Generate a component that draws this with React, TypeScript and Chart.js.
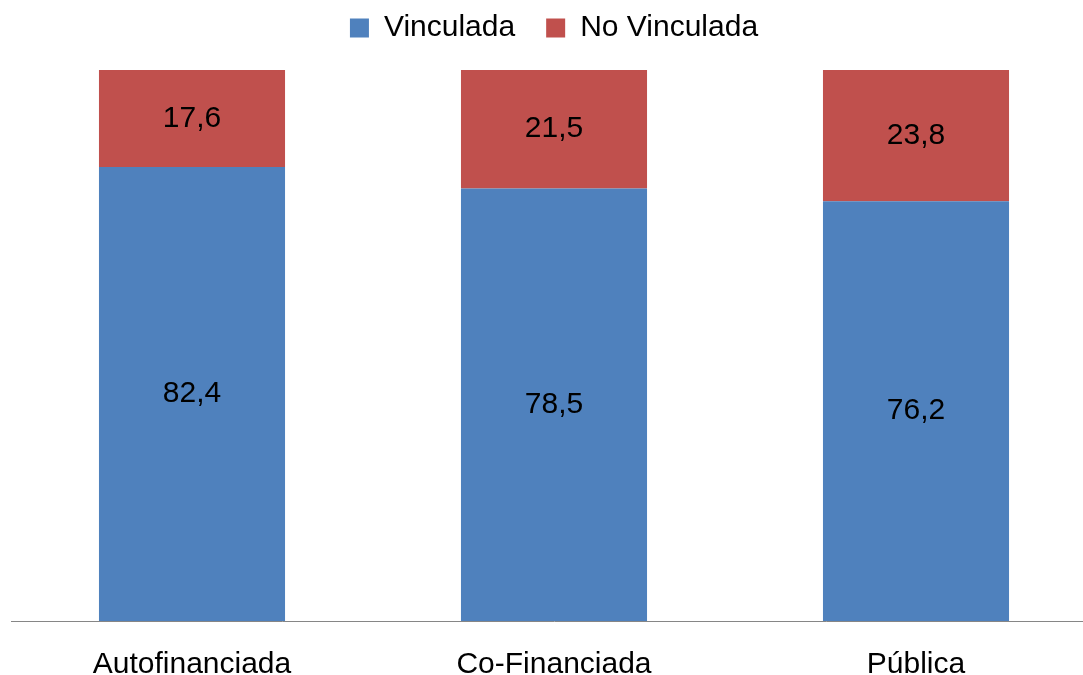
import React, { useEffect, useRef } from "react";
import { Chart, registerables } from "chart.js";

Chart.register(...registerables);

const categories = ["Autofinanciada", "Co-Financiada", "Pública"];
const vinculada = [82.4, 78.5, 76.2];
const noVinculada = [17.6, 21.5, 23.8];
const seriesNames = ["Vinculada", "No Vinculada"];

const FONT = "'Liberation Sans', Arial, sans-serif";

const labelPlugin = {
  id: "barLabels",
  afterDatasetsDraw(chart: any) {
    const ctx = chart.ctx;
    ctx.save();
    ctx.font = `30px ${FONT}`;
    ctx.fillStyle = "#000";
    ctx.textAlign = "center";
    ctx.textBaseline = "middle";
    chart.data.datasets.forEach((ds: any, i: number) => {
      const meta = chart.getDatasetMeta(i);
      meta.data.forEach((el: any, j: number) => {
        const p = el.getCenterPoint();
        const v = ds.data[j] as number;
        ctx.fillText(v.toFixed(1).replace(".", ","), p.x, p.y);
      });
    });
    ctx.restore();
  },
};

const legendSpacer = {
  id: "legendSpacer",
  beforeInit(chart: any) {
    const legend = chart.legend;
    if (!legend) return;
    const orig = legend.fit;
    legend.fit = function () {
      orig.call(this);
      this.height += 17;
    };
  },
};

export default function App() {
  const ref = useRef<HTMLCanvasElement>(null);
  useEffect(() => {
    if (!ref.current) return;
    const chart = new Chart(ref.current, {
      type: "bar",
      data: {
        labels: categories,
        datasets: [
          { label: seriesNames[0], data: vinculada, backgroundColor: "#4F81BD", borderWidth: 0 },
          { label: seriesNames[1], data: noVinculada, backgroundColor: "#C0504D", borderWidth: 0 },
        ],
      },
      options: {
        responsive: false,
        animation: false,
        devicePixelRatio: 1,
        layout: { padding: { left: 11, right: 3, top: 0, bottom: 0 } },
        datasets: { bar: { categoryPercentage: 1, barPercentage: 0.514 } },
        plugins: {
          legend: {
            position: "top",
            labels: {
              boxWidth: 19,
              boxHeight: 19,
              color: "#000",
              font: { family: FONT, size: 30 },
              padding: 31,
            },
          },
          tooltip: { enabled: false },
        },
        scales: {
          x: {
            stacked: true,
            grid: { display: false },
            border: { display: true, color: "#868686", width: 1 },
            ticks: { color: "#000", font: { family: FONT, size: 30 }, padding: 18 },
          },
          y: { stacked: true, display: false, min: 0, max: 100 },
        },
      },
      plugins: [legendSpacer, labelPlugin],
    });
    return () => chart.destroy();
  }, []);
  return (
    <div style={{ position: "absolute", left: 0, top: 0, width: 1083, height: 675, overflow: "hidden", background: "#fff" }}>
      <canvas
        ref={ref}
        width={1100}
        height={719}
        style={{ position: "absolute", left: 0, top: -18, width: 1100, height: 719, display: "block" }}
      />
    </div>
  );
}
